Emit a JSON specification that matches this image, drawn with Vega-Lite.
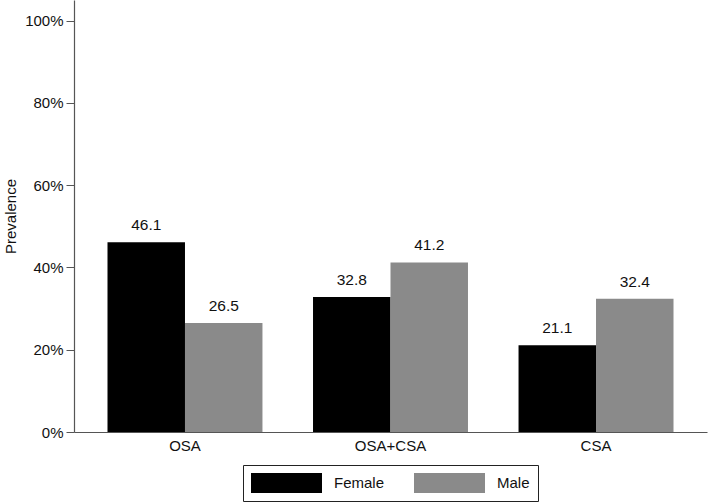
{
  "$schema": "https://vega.github.io/schema/vega-lite/v6.json",
  "autosize": "none",
  "width": 633,
  "height": 432,
  "padding": {"left": 74, "top": 0, "right": 2, "bottom": 70},
  "background": "white",
  "config": {
    "view": {"stroke": null},
    "font": "Liberation Sans",
    "axis": {"labelFont": "Liberation Sans", "titleFont": "Liberation Sans", "labelColor": "#111", "titleColor": "#111", "domainColor": "#555", "tickColor": "#555", "grid": false, "labelFontSize": 15, "titleFontSize": 15, "titleFontWeight": "normal"},
    "legend": {"labelFont": "Liberation Sans", "labelFontSize": 15, "labelColor": "#111"}
  },
  "data": {"values": [
    {"type": "OSA", "sex": "Female", "value": 46.1},
    {"type": "OSA", "sex": "Male", "value": 26.5},
    {"type": "OSA+CSA", "sex": "Female", "value": 32.8},
    {"type": "OSA+CSA", "sex": "Male", "value": 41.2},
    {"type": "CSA", "sex": "Female", "value": 21.1},
    {"type": "CSA", "sex": "Male", "value": 32.4}
  ]},
  "encoding": {
    "x": {"field": "type", "type": "nominal", "sort": ["OSA", "OSA+CSA", "CSA"],
      "scale": {"paddingInner": 0.246, "paddingOuter": 0.163},
      "axis": {"title": null, "labelAngle": 0, "ticks": false, "labelPadding": 6, "domainWidth": 1.2}},
    "xOffset": {"field": "sex", "type": "nominal", "sort": ["Female", "Male"], "scale": {"paddingInner": 0, "paddingOuter": 0}},
    "y": {"field": "value", "type": "quantitative", "scale": {"domain": [0, 105], "nice": false},
      "axis": {"title": "Prevalence", "values": [0, 20, 40, 60, 80, 100], "labelExpr": "datum.value + '%'", "tickSize": 8, "labelPadding": 3, "titlePadding": 6, "domainWidth": 1.2}}
  },
  "layer": [
    {
      "mark": {"type": "bar"},
      "encoding": {
        "color": {"field": "sex", "type": "nominal",
          "scale": {"domain": ["Female", "Male"], "range": ["#000000", "#8a8a8a"]},
          "legend": {"title": null, "orient": "none", "legendX": 169, "legendY": 465, "direction": "horizontal",
            "symbolType": "M-1,-1L6.1,-1L6.1,1L-1,1Z", "symbolSize": 400, "symbolStrokeWidth": 0,
            "labelOffset": 63, "columnPadding": 29, "padding": 8, "strokeColor": "#222"}}
      }
    },
    {
      "mark": {"type": "text", "dy": -9, "fontSize": 15.5, "color": "#111", "baseline": "bottom"},
      "encoding": {"text": {"field": "value", "type": "quantitative", "format": ".1f"}}
    }
  ]
}
